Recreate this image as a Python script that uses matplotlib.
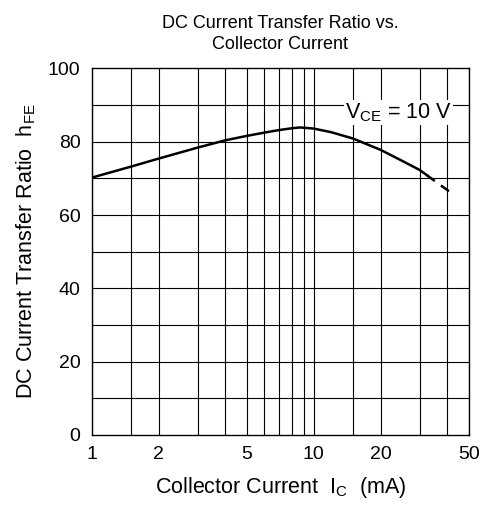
import matplotlib.pyplot as plt
import matplotlib.ticker as mticker

plt.rcParams['font.family'] = ['Liberation Sans', 'DejaVu Sans']
plt.rcParams['mathtext.fontset'] = 'custom'
plt.rcParams['mathtext.rm'] = 'Liberation Sans'
plt.rcParams['mathtext.it'] = 'Liberation Sans:italic'

# curve (solid part, then dashed extension)
ic_solid = [1.0, 1.5, 2.0, 3.0, 4.0, 5.0, 6.0, 7.0, 8.0, 8.7, 10.0, 12.0, 15.0, 20.0, 25.0, 30.0, 32.3]
hfe_solid = [70.2, 73.2, 75.4, 78.4, 80.4, 81.6, 82.5, 83.2, 83.7, 83.9, 83.6, 82.6, 80.9, 77.8, 74.8, 72.3, 70.9]
ic_dash = [32.3, 36.0, 41.1]
hfe_dash = [70.9, 68.8, 66.3]

x_grid = [1, 1.5, 2, 3, 4, 5, 6, 7, 8, 9, 10, 15, 20, 30, 40, 50]
x_ticks = [1, 2, 5, 10, 20, 50]
y_ticks = [0, 20, 40, 60, 80, 100]

fig = plt.figure(figsize=(4.92, 5.11), dpi=100)
ax = fig.add_axes([0.1864, 0.149, 0.7666, 0.717])
ax.set_xscale('log')
ax.set_xlim(1, 50)
ax.set_ylim(0, 100)

# grid
for xv in x_grid:
    ax.axvline(xv, color='black', lw=0.8, zorder=1)
for yv in range(10, 100, 10):
    ax.axhline(yv, color='black', lw=0.8, zorder=1)

ax.plot(ic_solid, hfe_solid, color='black', lw=1.8, zorder=3)
ax.plot(ic_dash, hfe_dash, color='black', lw=1.8, ls=(0, (4, 3)), zorder=3)

ax.set_xticks(x_ticks)
ax.xaxis.set_major_formatter(mticker.FuncFormatter(lambda v, p: f'{v:g}'))
ax.xaxis.set_minor_locator(mticker.NullLocator())
ax.set_yticks(y_ticks)
ax.tick_params(axis='both', length=0, labelsize=14, pad=8)

for s in ax.spines.values():
    s.set_linewidth(1.0)

ax.text(0.814, 0.864, r'V$_{\mathrm{CE}}$ = 10 V', transform=ax.transAxes,
        ha='center', va='baseline', fontsize=15.5, zorder=4,
        bbox=dict(facecolor='white', edgecolor='none', pad=1.0))

ax.set_xlabel(r'Collector Current  I$_{\mathrm{C}}$  (mA)', fontsize=15.5, labelpad=9)
ax.set_ylabel(r'DC Current Transfer Ratio  h$_{\mathrm{FE}}$', fontsize=15.5, labelpad=7)
ax.set_title('DC Current Transfer Ratio vs.\nCollector Current', fontsize=13,
             pad=14, linespacing=1.3)

fig.savefig('out.png', dpi=100)
